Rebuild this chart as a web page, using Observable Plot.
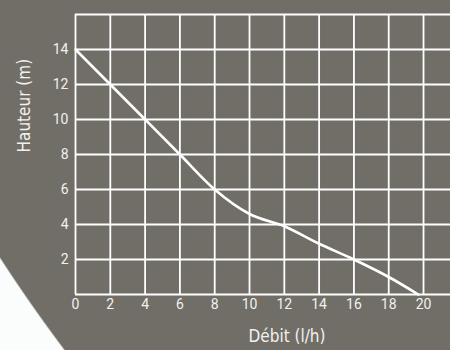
<!DOCTYPE html>
<html>
<head>
<meta charset="utf-8">
<script src="https://cdn.jsdelivr.net/npm/d3@7"></script>
<script src="https://cdn.jsdelivr.net/npm/@observablehq/plot@0.6"></script>
<style>
  html, body { margin: 0; padding: 0; }
  body {
    width: 450px; height: 350px; overflow: hidden;
    background: radial-gradient(circle 1600px at 1342px -612px, #716e67 99.9%, #fbfcfc 100%);
  }
  #chart svg { display: block; background: transparent; }
</style>
</head>
<body>
<div id="chart"></div>
<script>
const debit   = [0, 2, 4, 6, 8, 10, 12, 14, 16, 18, 19.7];
const hauteur = [14, 12, 10, 8, 6, 4.6, 3.9, 2.9, 2, 1, 0];
const xTicks = [0, 2, 4, 6, 8, 10, 12, 14, 16, 18, 20];
const yTicks = [2, 4, 6, 8, 10, 12, 14];
const yGrid = [0, 2, 4, 6, 8, 10, 12, 14, 16];
const xLabel = "Débit (l/h)";
const yLabel = "Hauteur (m)";

const data = debit.map((d, i) => ({debit: d, hauteur: hauteur[i]}));
const font = "'Liberation Sans Narrow', 'DejaVu Sans Condensed', Roboto, sans-serif";
const tickFont = "Roboto, 'Open Sans', sans-serif";
const textColor = "#f1f1ef";

const chart = Plot.plot({
  width: 450,
  height: 350,
  marginLeft: 75,
  marginRight: 0,
  marginTop: 14,
  marginBottom: 56,
  style: {background: "transparent", fontFamily: font, fontSize: "13px"},
  x: {domain: [0, 21.55], axis: null},
  y: {domain: [0, 16], axis: null},
  marks: [
    Plot.ruleY(yGrid, {stroke: "#ffffff", strokeWidth: 1.8}),
    Plot.ruleX(xTicks, {stroke: "#ffffff", strokeWidth: 1.8}),
    Plot.line(data, {x: "debit", y: "hauteur", stroke: "#ffffff", strokeWidth: 2.6, curve: "monotone-x"}),
    Plot.text(xTicks, {x: d => d, frameAnchor: "bottom", dy: 14, fontSize: 14, fontFamily: tickFont, fill: textColor}),
    Plot.text(yTicks, {y: d => d, frameAnchor: "left", textAnchor: "end", dx: -7, fontSize: 14, fontFamily: tickFont, fill: textColor}),
    Plot.text([xLabel], {frameAnchor: "bottom", dx: 24, dy: 47, fontSize: 17, fill: textColor}),
    Plot.text([yLabel], {frameAnchor: "left", rotate: -90, dx: -51, dy: -2, fontSize: 17, fill: textColor})
  ]
});
document.getElementById("chart").appendChild(chart);
</script>
</body>
</html>
